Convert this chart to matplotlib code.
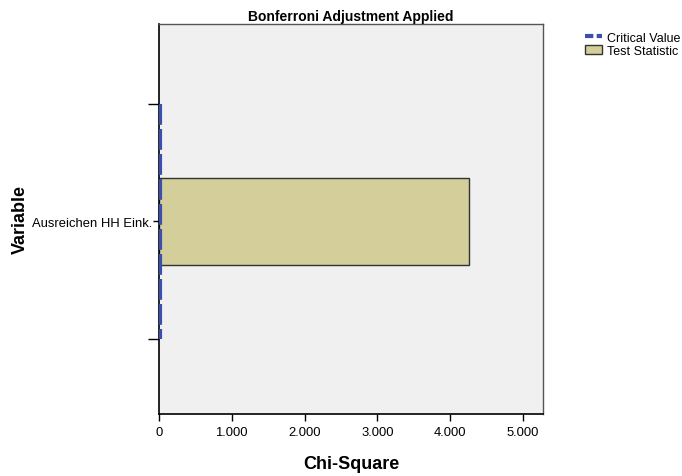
import matplotlib
matplotlib.use("Agg")
import matplotlib.pyplot as plt
from matplotlib.ticker import FuncFormatter, FixedLocator
from matplotlib.lines import Line2D
from matplotlib.patches import Patch

plt.rcParams['font.family'] = ['Liberation Sans', 'DejaVu Sans']

variables = ["Ausreichen HH Eink."]
test_statistic = [4258]
critical_value = [18]
x_ticks = [0, 1000, 2000, 3000, 4000, 5000]

fig = plt.figure(figsize=(6.82, 4.77), dpi=100)
ax = fig.add_axes([0.2331, 0.130, 0.5630, 0.8176])
ax.set_facecolor("#f0f0f0")

ypos = list(range(len(variables)))
ax.barh(ypos, test_statistic, height=0.37, color="#d3ce9a",
        edgecolor="#333333", linewidth=1.0, zorder=2)
for y, cv in zip(ypos, critical_value):
    ax.plot([cv, cv], [y - 0.5, y + 0.5], color="#3a4fb0", linewidth=3.0,
            dashes=(5.0, 1.0), solid_capstyle="butt", zorder=3)

ax.set_xlim(0, 5275)
ax.set_ylim(0.82, -0.84)

ax.xaxis.set_major_locator(FixedLocator(x_ticks))
ax.xaxis.set_major_formatter(FuncFormatter(
    lambda v, p: "0" if v == 0 else f"{int(v):,}".replace(",", ".")))
ax.set_yticks(ypos)
ax.set_yticklabels(variables)
ax.set_yticks([y - 0.5 for y in ypos] + [ypos[-1] + 0.5], minor=True)

ax.tick_params(axis="x", direction="out", length=5, width=1, labelsize=9.4,
               colors="#000000", pad=4)
ax.tick_params(axis="y", which="major", direction="out", length=4, width=1,
               labelsize=9.4, pad=1)
ax.tick_params(axis="y", which="minor", direction="out", length=8, width=1)

for side in ["left", "bottom"]:
    ax.spines[side].set_color("#000000")
    ax.spines[side].set_linewidth(1.2)
for side in ["top", "right"]:
    ax.spines[side].set_color("#555555")
    ax.spines[side].set_linewidth(1.0)

ax.set_title("Bonferroni Adjustment Applied", fontsize=10, fontweight="bold",
             pad=3)
ax.set_xlabel("Chi-Square", fontsize=13, fontweight="bold", labelpad=12)
ax.set_ylabel("Variable", fontsize=13, fontweight="bold", labelpad=2)

handles = [
    Line2D([0], [0], color="#3a4fb0", linewidth=3.0, dashes=(2, 0.8)),
    Patch(facecolor="#d3ce9a", edgecolor="#333333", linewidth=1.0),
]
fig.legend(handles, ["Critical Value", "Test Statistic"],
           loc="upper left", bbox_to_anchor=(0.851, 0.942),
           frameon=False, fontsize=9.0, handlelength=1.3, handletextpad=0.4,
           labelspacing=0.1, borderaxespad=0)

fig.savefig("out.png", dpi=100, facecolor="white")
